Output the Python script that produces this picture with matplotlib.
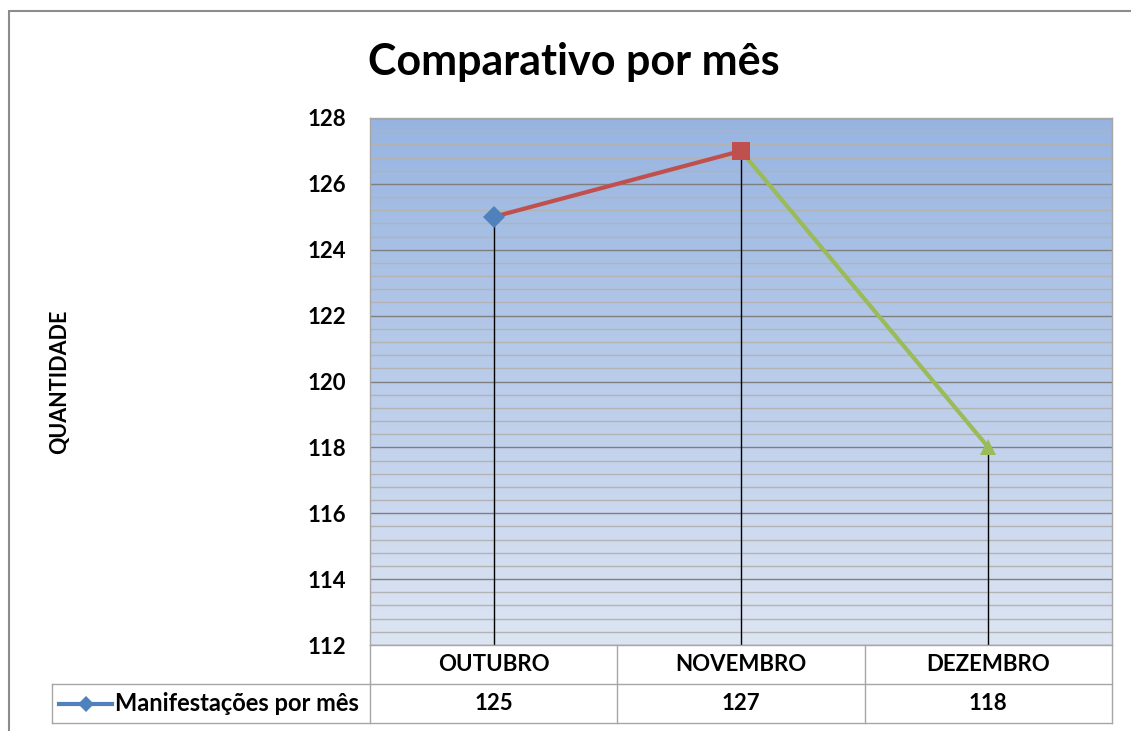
import numpy as np
import matplotlib
matplotlib.use("Agg")
import matplotlib.pyplot as plt
from matplotlib import transforms
from matplotlib.patches import Rectangle
from matplotlib.colors import LinearSegmentedColormap

categories = ["OUTUBRO", "NOVEMBRO", "DEZEMBRO"]
values = [125, 127, 118]
series_name = "Manifestações por mês"
title = "Comparativo por mês"
ylabel = "QUANTIDADE"
y_ticks = [112, 114, 116, 118, 120, 122, 124, 126, 128]

point_colors = ["#4f81bd", "#c0504d", "#9bbb59"]
markers = ["D", "s", "^"]
FONT = ["Lato", "DejaVu Sans"]

W, H = 1131, 731
fig = plt.figure(figsize=(W / 100, H / 100), dpi=100)

def fx(px):
    return px / W

def fy(py):
    return 1 - py / H

# figure border
fig.patches.append(Rectangle((fx(9), -0.05), 1.2, fy(11) + 0.05, transform=fig.transFigure,
                             fill=False, edgecolor="#8c8c8c", lw=1.5, zorder=0))

L, R, T, B = 370, 1112, 118, 645
ax = fig.add_axes([fx(L), fy(B), fx(R - L), (B - T) / H])
ax.set_xlim(0, 3)
ax.set_ylim(112, 128)

# gradient background
cmap = LinearSegmentedColormap.from_list("g", ["#dde5f3", "#97b4e1"])
grad = np.linspace(0, 1, 256).reshape(-1, 1)
ax.imshow(grad, aspect="auto", cmap=cmap, origin="lower", extent=(0, 3, 112, 128), zorder=0)

# gridlines
for yv in np.arange(112, 128.01, 0.4):
    if abs(yv - round(yv)) < 1e-6 and int(round(yv)) % 2 == 0:
        continue
    ax.axhline(yv, color="#b3b3b3", lw=1.0, zorder=1)
for yv in y_ticks:
    ax.axhline(yv, color="#7f7f7f", lw=1.0, zorder=1)

xs = np.arange(len(values)) + 0.5
# drop lines
for x, v in zip(xs, values):
    ax.plot([x, x], [112, v], color="black", lw=1.0, zorder=2)
# segments colored by point
for i in range(1, len(values)):
    ax.plot(xs[i - 1:i + 1], values[i - 1:i + 1], color=point_colors[i], lw=3.0,
            solid_capstyle="butt", zorder=3)
msize = [11, 13, 12]
for x, v, c, m, s in zip(xs, values, point_colors, markers, msize):
    ax.plot([x], [v], marker=m, color=c, markersize=s, markeredgewidth=0, zorder=4)

ax.set_xticks([])
ax.set_yticks(y_ticks)
ax.set_yticklabels([str(t) for t in y_ticks], fontsize=16, fontweight="bold", family=FONT)
ax.tick_params(axis="y", length=0, pad=17)
for s in ax.spines.values():
    s.set_color("#a6a6a6")
    s.set_linewidth(1.0)

fig.text(fx(574), fy(62), title, ha="center", va="center", fontsize=31, fontweight="bold", family=FONT)
fig.text(fx(60), fy(382), ylabel, ha="center", va="center", rotation=90, fontsize=15.5,
         fontweight="bold", family=FONT)

# data table
tc = "#a6a6a6"
blend = transforms.blended_transform_factory(ax.transData, fig.transFigure)
row1_top, row1_bot, row2_bot = 645, 684, 723
fig.add_artist(plt.Line2D([fx(52), fx(R)], [fy(row1_bot)] * 2, color=tc, lw=1.0))
fig.add_artist(plt.Line2D([fx(52), fx(R)], [fy(row2_bot)] * 2, color=tc, lw=1.0))
for xb in [0, 1, 2, 3]:
    ax.plot([xb, xb], [fy(row1_top), fy(row2_bot)], transform=blend, color=tc, lw=1.0,
            clip_on=False)
fig.add_artist(plt.Line2D([fx(52), fx(52)], [fy(row1_bot), fy(row2_bot)], color=tc, lw=1.0))

for x, c, v in zip(xs, categories, values):
    ax.text(x, fy((row1_top + row1_bot) / 2), c, transform=blend, ha="center", va="center",
            fontsize=16, fontweight="bold", family=FONT)
    ax.text(x, fy((row1_bot + row2_bot) / 2), str(v), transform=blend, ha="center", va="center",
            fontsize=16, fontweight="bold", family=FONT)

# legend key
ly = fy((row1_bot + row2_bot) / 2)
fig.add_artist(plt.Line2D([fx(59), fx(112)], [ly, ly], color=point_colors[0], lw=3.0))
fig.add_artist(plt.Line2D([fx(86)], [ly], color=point_colors[0], marker="D", markersize=8,
                          markeredgewidth=0))
fig.text(fx(115), ly, series_name, ha="left", va="center", fontsize=17, fontweight="bold",
         family=FONT)

fig.savefig("out.png", dpi=100)
